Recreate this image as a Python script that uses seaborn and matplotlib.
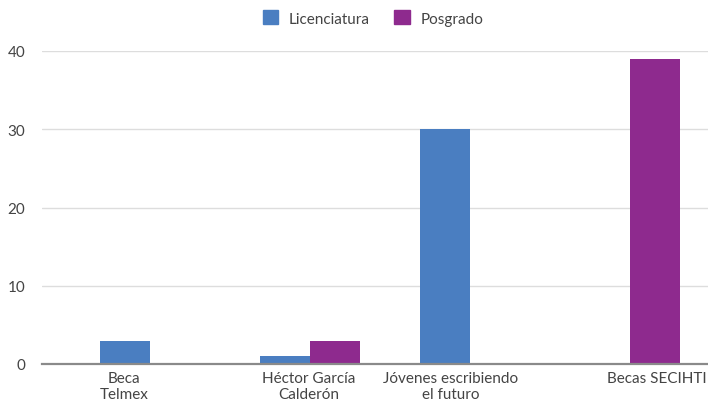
import matplotlib
matplotlib.use("Agg")
import matplotlib.pyplot as plt
import matplotlib.transforms as mtransforms
import seaborn as sns
import pandas as pd

categories = ["Beca\nTelmex", "Héctor García\nCalderón", "Jóvenes escribiendo\nel futuro", "Becas SECIHTI"]
licenciatura = [3, 1, 30, 0]
posgrado = [0, 3, 0, 39]
series_names = ["Licenciatura", "Posgrado"]
yticks = [0, 10, 20, 30, 40]

df = pd.DataFrame({
    "cat": categories * 2,
    "serie": [series_names[0]] * 4 + [series_names[1]] * 4,
    "val": licenciatura + posgrado,
})

sns.set_theme(style="white")
plt.rcParams["font.family"] = ["Lato", "DejaVu Sans"]
text_color = "#444444"
fs = 11

fig = plt.figure(figsize=(7.08, 4.06), dpi=100)
ax = fig.add_axes([42 / 708, 1 - 365 / 406, 1 - 42 / 708, (365 - 52) / 406])

palette = {"Licenciatura": "#4a7ec1", "Posgrado": "#8e2a8e"}
sns.barplot(data=df, x="cat", y="val", hue="serie", order=categories,
            hue_order=series_names, palette=palette, width=0.625, gap=0,
            saturation=1, linewidth=0, ax=ax, legend=True)

ax.set_ylim(0, 40)
ax.set_xlim((42 - 150) / 160, (708 - 150) / 160)
ax.set_yticks(yticks)
ax.set_yticklabels([str(v) for v in yticks], fontsize=fs, color=text_color)
ax.grid(axis="y", color="#dddddd", linewidth=1)
ax.set_axisbelow(True)
for s in ["top", "right", "left"]:
    ax.spines[s].set_visible(False)
ax.spines["bottom"].set_color("#8a8a8a")
ax.spines["bottom"].set_linewidth(1.6)
ax.set_xlabel("")
ax.set_ylabel("")
ax.tick_params(axis="both", length=0)
ax.tick_params(axis="x", pad=5)
ax.tick_params(axis="y", pad=12)
ax.set_xticks(range(len(categories)))
ax.set_xticklabels(categories, fontsize=fs, color=text_color, linespacing=1.2)

offsets = [-26, -1, -19, 0]
for lbl, off in zip(ax.get_xticklabels(), offsets):
    lbl.set_transform(lbl.get_transform() + mtransforms.ScaledTranslation(off / 100, 0, fig.dpi_scale_trans))
    if off == 0:
        lbl.set_horizontalalignment("left")
        lbl.set_transform(lbl.get_transform() + mtransforms.ScaledTranslation(-23 / 100, 0, fig.dpi_scale_trans))

ax.legend_.remove()
handles = [plt.Rectangle((0, 0), 1, 1, color=palette[n]) for n in series_names]
fig.legend(handles, series_names, loc="center", bbox_to_anchor=(373 / 708, 1 - 19 / 406),
           ncol=2, frameon=False, fontsize=fs, labelcolor=text_color,
           handlelength=1.0, handleheight=1.0, handletextpad=0.7, columnspacing=1.6)

fig.savefig("out.png", dpi=100)
